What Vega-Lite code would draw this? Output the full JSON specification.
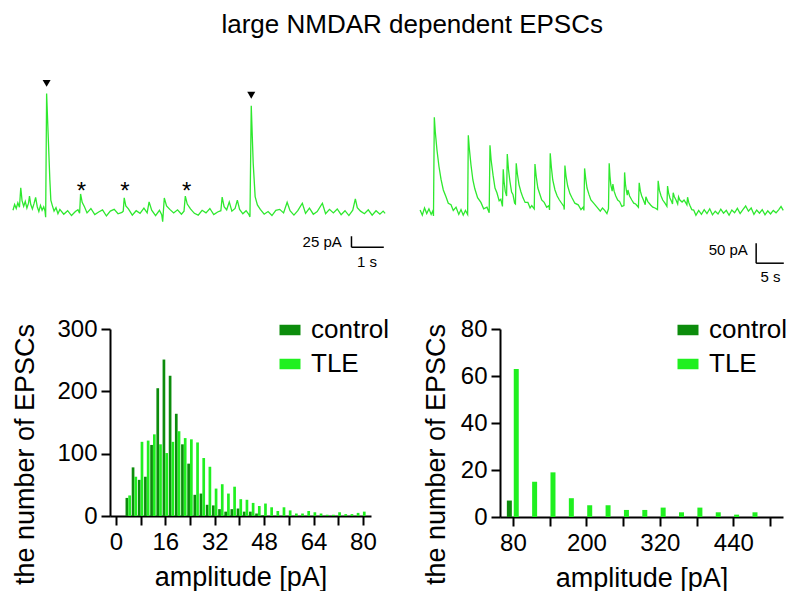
{
  "$schema": "https://vega.github.io/schema/vega-lite/v6.json",
  "padding": {"left": 10, "top": 12, "right": 5, "bottom": 0},
  "title": {"text": "large NMDAR dependent EPSCs", "fontSize": 26, "fontWeight": "normal", "color": "black", "font": "Liberation Sans", "anchor": "middle", "offset": 37, "dx": 13},
  "spacing": 27,
  "resolve": {"scale": {"color": "independent"}, "legend": {"color": "independent"}},
  "datasets": {
    "traceL": [
      {"t":0.03,"i":4},{"t":0.08,"i":17},{"t":0.13,"i":8},{"t":0.18,"i":21},{"t":0.23,"i":11},{"t":0.27,"i":55},{"t":0.31,"i":26},{"t":0.36,"i":13},{"t":0.41,"i":24},{"t":0.46,"i":9},{"t":0.51,"i":20},{"t":0.54,"i":36},{"t":0.58,"i":17},{"t":0.63,"i":7},{"t":0.68,"i":19},{"t":0.73,"i":33},{"t":0.78,"i":12},{"t":0.83,"i":1},{"t":0.88,"i":15},{"t":0.93,"i":4},{"t":0.98,"i":12},{"t":1.02,"i":2},{"t":1.04,"i":-12},{"t":1.07,"i":269},{"t":1.12,"i":171},{"t":1.17,"i":73},{"t":1.20,"i":27},{"t":1.25,"i":14},{"t":1.30,"i":2},{"t":1.36,"i":10},{"t":1.42,"i":-4},{"t":1.48,"i":6},{"t":1.60,"i":-5},{"t":1.72,"i":3},{"t":1.84,"i":-8},{"t":1.96,"i":1},{"t":2.04,"i":5},{"t":2.09,"i":-3},{"t":2.12,"i":41},{"t":2.17,"i":22},{"t":2.24,"i":12},{"t":2.32,"i":-2},{"t":2.44,"i":8},{"t":2.56,"i":-6},{"t":2.68,"i":0},{"t":2.80,"i":5},{"t":2.92,"i":-9},{"t":3.04,"i":2},{"t":3.16,"i":6},{"t":3.28,"i":-4},{"t":3.40,"i":-1},{"t":3.44,"i":2},{"t":3.47,"i":32},{"t":3.52,"i":14},{"t":3.60,"i":7},{"t":3.72,"i":-7},{"t":3.84,"i":3},{"t":3.96,"i":-3},{"t":4.08,"i":9},{"t":4.18,"i":-2},{"t":4.24,"i":23},{"t":4.32,"i":4},{"t":4.44,"i":-8},{"t":4.56,"i":4},{"t":4.63,"i":-6},{"t":4.66,"i":-22},{"t":4.71,"i":32},{"t":4.78,"i":14},{"t":4.88,"i":6},{"t":5.00,"i":-2},{"t":5.12,"i":5},{"t":5.24,"i":-5},{"t":5.32,"i":2},{"t":5.36,"i":36},{"t":5.42,"i":18},{"t":5.52,"i":7},{"t":5.64,"i":-3},{"t":5.76,"i":-7},{"t":5.88,"i":4},{"t":6.00,"i":-2},{"t":6.12,"i":8},{"t":6.24,"i":-6},{"t":6.36,"i":0},{"t":6.46,"i":3},{"t":6.50,"i":34},{"t":6.56,"i":12},{"t":6.64,"i":5},{"t":6.72,"i":23},{"t":6.80,"i":2},{"t":6.90,"i":8},{"t":6.97,"i":27},{"t":7.04,"i":6},{"t":7.14,"i":-4},{"t":7.24,"i":3},{"t":7.33,"i":-6},{"t":7.36,"i":-11},{"t":7.40,"i":241},{"t":7.46,"i":111},{"t":7.52,"i":35},{"t":7.59,"i":16},{"t":7.68,"i":6},{"t":7.80,"i":-5},{"t":7.92,"i":1},{"t":8.04,"i":-8},{"t":8.16,"i":4},{"t":8.28,"i":6},{"t":8.40,"i":-2},{"t":8.51,"i":22},{"t":8.60,"i":3},{"t":8.72,"i":-7},{"t":8.84,"i":3},{"t":8.98,"i":20},{"t":9.08,"i":-3},{"t":9.20,"i":9},{"t":9.32,"i":-5},{"t":9.44,"i":1},{"t":9.60,"i":20},{"t":9.70,"i":-4},{"t":9.82,"i":6},{"t":9.94,"i":-2},{"t":10.06,"i":7},{"t":10.18,"i":-6},{"t":10.30,"i":3},{"t":10.42,"i":-8},{"t":10.54,"i":4},{"t":10.62,"i":30},{"t":10.68,"i":10},{"t":10.78,"i":2},{"t":10.90,"i":-4},{"t":11.02,"i":5},{"t":11.14,"i":-7},{"t":11.26,"i":3},{"t":11.38,"i":-5},{"t":11.48,"i":2},{"t":11.54,"i":-3}
    ],
    "triL": [{"t":1.07,"i":292},{"t":7.40,"i":265}],
    "astL": [{"t":2.15,"i":61,"s":"*"},{"t":3.49,"i":61,"s":"*"},{"t":5.40,"i":61,"s":"*"}],
    "barL": [{"t":10.5,"t2":11.5,"i":-80,"i2":-80},{"t":10.5,"t2":10.5,"i":-80,"i2":-55}],
    "txtL": [{"t":10.2,"i":-68,"label":"25 pA","kind":"amp"},{"t":10.98,"i":-113,"label":"1 s","kind":"time"}],
    "traceR": [
      {"t":0.2,"i":5},{"t":0.6,"i":-8},{"t":1.0,"i":10},{"t":1.4,"i":-4},{"t":1.8,"i":8},{"t":2.2,"i":-6},{"t":2.5,"i":3},{"t":2.62,"i":-10},{"t":2.77,"i":237},{"t":2.95,"i":200},{"t":3.25,"i":155},{"t":3.6,"i":115},{"t":3.98,"i":82},{"t":4.4,"i":55},{"t":4.88,"i":38},{"t":5.3,"i":22},{"t":5.79,"i":18},{"t":6.2,"i":4},{"t":6.7,"i":12},{"t":7.2,"i":-6},{"t":7.6,"i":6},{"t":8.0,"i":-8},{"t":8.4,"i":4},{"t":8.8,"i":-6},{"t":8.92,"i":192},{"t":9.1,"i":160},{"t":9.4,"i":118},{"t":9.75,"i":80},{"t":10.1,"i":58},{"t":10.6,"i":36},{"t":11.2,"i":24},{"t":11.7,"i":8},{"t":12.3,"i":12},{"t":12.7,"i":-2},{"t":12.84,"i":167},{"t":13.05,"i":130},{"t":13.4,"i":92},{"t":13.75,"i":60},{"t":14.1,"i":48},{"t":14.5,"i":28},{"t":14.8,"i":32},{"t":15.1,"i":14},{"t":15.24,"i":107},{"t":15.4,"i":75},{"t":15.6,"i":52},{"t":15.85,"i":40},{"t":15.97,"i":145},{"t":16.2,"i":105},{"t":16.46,"i":76},{"t":16.75,"i":50},{"t":17.0,"i":44},{"t":17.3,"i":22},{"t":17.45,"i":20},{"t":17.59,"i":122},{"t":17.8,"i":95},{"t":18.1,"i":68},{"t":18.45,"i":50},{"t":18.8,"i":36},{"t":19.2,"i":24},{"t":19.7,"i":24},{"t":20.1,"i":10},{"t":20.4,"i":16},{"t":20.85,"i":8},{"t":20.98,"i":120},{"t":21.2,"i":90},{"t":21.5,"i":60},{"t":21.85,"i":45},{"t":22.2,"i":30},{"t":22.65,"i":24},{"t":23.1,"i":12},{"t":23.5,"i":16},{"t":23.62,"i":5},{"t":23.74,"i":147},{"t":23.95,"i":112},{"t":24.2,"i":80},{"t":24.6,"i":55},{"t":25.0,"i":40},{"t":25.4,"i":30},{"t":25.9,"i":20},{"t":26.2,"i":14},{"t":26.28,"i":6},{"t":26.4,"i":116},{"t":26.6,"i":90},{"t":26.9,"i":65},{"t":27.3,"i":46},{"t":27.7,"i":35},{"t":28.2,"i":22},{"t":28.8,"i":18},{"t":29.3,"i":6},{"t":29.7,"i":12},{"t":29.84,"i":4},{"t":29.96,"i":109},{"t":30.15,"i":85},{"t":30.4,"i":60},{"t":30.75,"i":44},{"t":31.1,"i":30},{"t":31.6,"i":22},{"t":32.2,"i":12},{"t":32.8,"i":2},{"t":33.2,"i":10},{"t":33.6,"i":4},{"t":34.0,"i":-4},{"t":34.28,"i":8},{"t":34.41,"i":122},{"t":34.55,"i":90},{"t":34.7,"i":68},{"t":34.95,"i":52},{"t":35.08,"i":70},{"t":35.3,"i":52},{"t":35.6,"i":40},{"t":35.95,"i":30},{"t":36.3,"i":26},{"t":36.7,"i":14},{"t":37.08,"i":16},{"t":37.2,"i":99},{"t":37.35,"i":70},{"t":37.5,"i":55},{"t":37.68,"i":42},{"t":37.8,"i":55},{"t":38.1,"i":40},{"t":38.5,"i":30},{"t":38.85,"i":22},{"t":39.2,"i":20},{"t":39.7,"i":12},{"t":39.84,"i":73},{"t":40.05,"i":52},{"t":40.3,"i":40},{"t":40.6,"i":30},{"t":40.93,"i":18},{"t":41.05,"i":38},{"t":41.4,"i":26},{"t":41.95,"i":17},{"t":42.3,"i":12},{"t":42.7,"i":10},{"t":43.15,"i":6},{"t":43.27,"i":78},{"t":43.5,"i":54},{"t":43.8,"i":40},{"t":44.1,"i":30},{"t":44.5,"i":22},{"t":44.85,"i":14},{"t":44.97,"i":65},{"t":45.15,"i":48},{"t":45.4,"i":35},{"t":45.7,"i":26},{"t":45.87,"i":20},{"t":45.99,"i":48},{"t":46.2,"i":38},{"t":46.5,"i":30},{"t":46.8,"i":20},{"t":46.96,"i":38},{"t":47.2,"i":30},{"t":47.6,"i":25},{"t":47.95,"i":30},{"t":48.3,"i":22},{"t":48.47,"i":18},{"t":48.59,"i":37},{"t":48.8,"i":24},{"t":49.0,"i":17},{"t":49.35,"i":6},{"t":49.7,"i":5},{"t":50.1,"i":-8},{"t":50.6,"i":4},{"t":51.1,"i":-6},{"t":51.6,"i":6},{"t":52.1,"i":-4},{"t":52.6,"i":8},{"t":53.1,"i":-7},{"t":53.6,"i":2},{"t":54.1,"i":-5},{"t":54.6,"i":7},{"t":55.1,"i":-3},{"t":55.6,"i":4},{"t":56.1,"i":-8},{"t":56.6,"i":5},{"t":57.1,"i":-2},{"t":57.6,"i":9},{"t":58.1,"i":-4},{"t":58.6,"i":6},{"t":59.1,"i":15},{"t":59.6,"i":2},{"t":60.1,"i":10},{"t":60.6,"i":-6},{"t":61.1,"i":5},{"t":61.6,"i":-3},{"t":62.1,"i":6},{"t":62.6,"i":-7},{"t":63.1,"i":3},{"t":63.6,"i":-5},{"t":64.1,"i":4},{"t":64.6,"i":-2},{"t":65.1,"i":6},{"t":65.5,"i":14},{"t":65.9,"i":4}
    ],
    "barR": [{"t":61,"t2":66,"i":-128,"i2":-128},{"t":61,"t2":61,"i":-128,"i2":-78}],
    "txtR": [{"t":59.5,"i":-95,"label":"50 pA","kind":"amp"},{"t":63.6,"i":-162,"label":"5 s","kind":"time"}],
    "histL": [
      {"bin":4,"group":"control","count":29},{"bin":6,"group":"control","count":78},{"bin":8,"group":"control","count":58},{"bin":10,"group":"control","count":63},{"bin":12,"group":"control","count":114},{"bin":14,"group":"control","count":205},{"bin":16,"group":"control","count":251},{"bin":18,"group":"control","count":225},{"bin":20,"group":"control","count":164},{"bin":22,"group":"control","count":115},{"bin":24,"group":"control","count":84},{"bin":26,"group":"control","count":34},{"bin":28,"group":"control","count":36},{"bin":30,"group":"control","count":18},{"bin":32,"group":"control","count":17},{"bin":34,"group":"control","count":11},{"bin":36,"group":"control","count":7},{"bin":38,"group":"control","count":11},{"bin":40,"group":"control","count":12},{"bin":42,"group":"control","count":7},{"bin":44,"group":"control","count":7},{"bin":46,"group":"control","count":4},{"bin":48,"group":"control","count":1},
      {"bin":4,"group":"TLE","count":33},{"bin":6,"group":"TLE","count":63},{"bin":8,"group":"TLE","count":119},{"bin":10,"group":"TLE","count":121},{"bin":12,"group":"TLE","count":131},{"bin":14,"group":"TLE","count":115},{"bin":16,"group":"TLE","count":101},{"bin":18,"group":"TLE","count":119},{"bin":20,"group":"TLE","count":136},{"bin":22,"group":"TLE","count":125},{"bin":24,"group":"TLE","count":123},{"bin":26,"group":"TLE","count":118},{"bin":28,"group":"TLE","count":93},{"bin":30,"group":"TLE","count":79},{"bin":32,"group":"TLE","count":44},{"bin":34,"group":"TLE","count":51},{"bin":36,"group":"TLE","count":36},{"bin":38,"group":"TLE","count":47},{"bin":40,"group":"TLE","count":27},{"bin":42,"group":"TLE","count":26},{"bin":44,"group":"TLE","count":21},{"bin":46,"group":"TLE","count":16},{"bin":48,"group":"TLE","count":20},{"bin":50,"group":"TLE","count":14},{"bin":52,"group":"TLE","count":8},{"bin":54,"group":"TLE","count":14},{"bin":56,"group":"TLE","count":9},{"bin":58,"group":"TLE","count":4},{"bin":60,"group":"TLE","count":4},{"bin":62,"group":"TLE","count":8},{"bin":64,"group":"TLE","count":6},{"bin":66,"group":"TLE","count":4},{"bin":68,"group":"TLE","count":2},{"bin":70,"group":"TLE","count":2},{"bin":72,"group":"TLE","count":6},{"bin":74,"group":"TLE","count":3},{"bin":76,"group":"TLE","count":3},{"bin":78,"group":"TLE","count":5},{"bin":80,"group":"TLE","count":7}
    ],
    "histR": [
      {"bin":80,"group":"control","count":7},
      {"bin":80,"group":"TLE","count":63},{"bin":110,"group":"TLE","count":15},{"bin":140,"group":"TLE","count":19},{"bin":170,"group":"TLE","count":8},{"bin":200,"group":"TLE","count":5},{"bin":230,"group":"TLE","count":5},{"bin":260,"group":"TLE","count":3},{"bin":290,"group":"TLE","count":3},{"bin":320,"group":"TLE","count":4},{"bin":350,"group":"TLE","count":2},{"bin":380,"group":"TLE","count":4},{"bin":410,"group":"TLE","count":2},{"bin":440,"group":"TLE","count":1},{"bin":470,"group":"TLE","count":2}
    ]
  },
  "vconcat": [
    {
      "spacing": 29,
      "hconcat": [
        {
          "width": 278, "height": 215,
          "encoding": {
            "x": {"field": "t", "type": "quantitative", "scale": {"domain": [0.03, 11.63], "range": [-97, 278], "nice": false, "zero": false}, "axis": null},
            "y": {"field": "i", "type": "quantitative", "scale": {"domain": [-177, 311], "nice": false, "zero": false}, "axis": null}
          },
          "layer": [
            {"data": {"name": "traceL"}, "mark": {"type": "line", "color": "#2ee82e", "strokeWidth": 1.3, "clip": false}},
            {"data": {"name": "triL"}, "mark": {"type": "point", "shape": "triangle-down", "filled": true, "color": "black", "size": 64, "opacity": 1}},
            {"data": {"name": "astL"}, "mark": {"type": "text", "fontSize": 24, "font": "Liberation Sans", "color": "black", "baseline": "alphabetic", "dy": 14}, "encoding": {"text": {"field": "s"}}},
            {"data": {"name": "barL"}, "mark": {"type": "rule", "color": "black", "strokeWidth": 1.5}, "encoding": {"x2": {"field": "t2"}, "y2": {"field": "i2"}}},
            {"data": {"name": "txtL"}, "transform": [{"filter": "datum.kind === 'amp'"}], "mark": {"type": "text", "fontSize": 15, "font": "Liberation Sans", "color": "black", "align": "right", "baseline": "middle"}, "encoding": {"text": {"field": "label"}}},
            {"data": {"name": "txtL"}, "transform": [{"filter": "datum.kind === 'time'"}], "mark": {"type": "text", "fontSize": 15, "font": "Liberation Sans", "color": "black", "align": "center", "baseline": "middle"}, "encoding": {"text": {"field": "label"}}}
          ]
        },
        {
          "width": 367, "height": 215,
          "encoding": {
            "x": {"field": "t", "type": "quantitative", "scale": {"domain": [0, 66.4], "nice": false, "zero": false}, "axis": null},
            "y": {"field": "i", "type": "quantitative", "scale": {"domain": [-195, 342.5], "nice": false, "zero": false}, "axis": null}
          },
          "layer": [
            {"data": {"name": "traceR"}, "mark": {"type": "line", "color": "#2ee82e", "strokeWidth": 1.3, "clip": false}},
            {"data": {"name": "barR"}, "mark": {"type": "rule", "color": "black", "strokeWidth": 1.5}, "encoding": {"x2": {"field": "t2"}, "y2": {"field": "i2"}}},
            {"data": {"name": "txtR"}, "transform": [{"filter": "datum.kind === 'amp'"}], "mark": {"type": "text", "fontSize": 15, "font": "Liberation Sans", "color": "black", "align": "right", "baseline": "middle"}, "encoding": {"text": {"field": "label"}}},
            {"data": {"name": "txtR"}, "transform": [{"filter": "datum.kind === 'time'"}], "mark": {"type": "text", "fontSize": 15, "font": "Liberation Sans", "color": "black", "align": "center", "baseline": "middle"}, "encoding": {"text": {"field": "label"}}}
          ]
        }
      ]
    },
    {
      "spacing": 32,
      "resolve": {"scale": {"color": "independent"}, "legend": {"color": "independent"}},
      "hconcat": [
        {
          "width": 261, "height": 187,
          "data": {"name": "histL"},
          "encoding": {
            "x": {"field": "bin", "type": "quantitative", "scale": {"domain": [-0.3, 81], "nice": false, "zero": false},
                  "axis": {"values": [0,8,16,24,32,40,48,56,64,72,80], "labelExpr": "datum.value % 16 === 0 ? datum.label : ''", "title": "amplitude [pA]", "labelPadding": 5, "titlePadding": 10}},
            "y": {"field": "count", "type": "quantitative", "scale": {"domain": [0, 300], "nice": false},
                  "axis": {"values": [0,100,200,300], "title": "the number of EPSCs", "titleY": 125, "titleAlign": "center", "titlePadding": 17}},
            "color": {"field": "group", "type": "nominal", "scale": {"domain": ["control", "TLE"], "range": ["#0c8c0c", "#20f020"]},
                      "legend": {"legendX": 167, "legendY": -12}}
          },
          "layer": [
            {"transform": [{"filter": "datum.group === 'control'"}], "mark": {"type": "bar", "size": 2.7, "xOffset": -1.4}},
            {"transform": [{"filter": "datum.group === 'TLE'"}], "mark": {"type": "bar", "size": 2.7, "xOffset": 1.35}}
          ]
        },
        {
          "width": 283, "height": 188,
          "data": {"name": "histR"},
          "encoding": {
            "x": {"field": "bin", "type": "quantitative", "scale": {"domain": [67, 513], "nice": false, "zero": false},
                  "axis": {"values": [80,140,200,260,320,380,440,500], "labelExpr": "(datum.value - 80) % 120 === 0 ? datum.label : ''", "title": "amplitude [pA]", "labelPadding": 5, "titlePadding": 10}},
            "y": {"field": "count", "type": "quantitative", "scale": {"domain": [0, 80], "nice": false},
                  "axis": {"values": [0,20,40,60,80], "title": "the number of EPSCs", "titleY": 125, "titleAlign": "center", "titlePadding": 10}},
            "color": {"field": "group", "type": "nominal", "scale": {"domain": ["control", "TLE"], "range": ["#0c8c0c", "#20f020"]},
                      "legend": {"legendX": 175, "legendY": -12}}
          },
          "layer": [
            {"transform": [{"filter": "datum.group === 'control'"}], "mark": {"type": "bar", "size": 5, "xOffset": -3.6}},
            {"transform": [{"filter": "datum.group === 'TLE'"}], "mark": {"type": "bar", "size": 5, "xOffset": 3.3}}
          ]
        }
      ]
    }
  ],
  "config": {
    "font": "Liberation Sans",
    "view": {"stroke": null},
    "axis": {"domainColor": "black", "domainWidth": 2, "tickColor": "black", "tickWidth": 2, "tickSize": 9, "labelColor": "black", "labelFontSize": 24, "labelFont": "Liberation Sans", "titleFont": "Liberation Sans", "titleFontSize": 27, "titleFontWeight": "normal", "titleColor": "black", "grid": false, "labelPadding": 4, "labelFlush": false, "labelOverlap": false, "labelBound": false},
    "legend": {"orient": "none", "title": null, "labelFontSize": 26, "labelFont": "Liberation Sans", "labelColor": "black", "symbolType": "M-1,-0.5H1V0.5H-1Z", "symbolSize": 441, "symbolStrokeWidth": 0, "symbolOpacity": 1, "rowPadding": 8, "labelOffset": 8, "padding": 0}
  }
}
